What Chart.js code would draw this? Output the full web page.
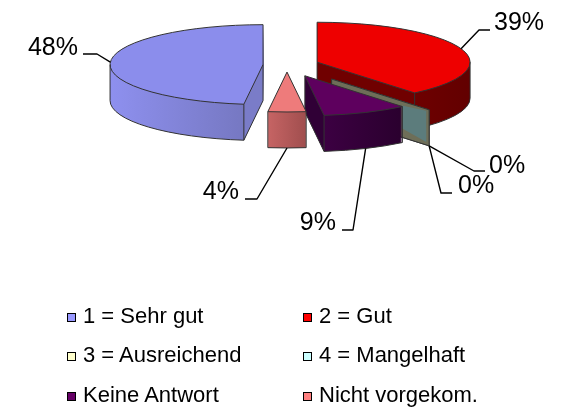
<!DOCTYPE html>
<html>
<head>
<meta charset="utf-8">
<script src="https://cdn.jsdelivr.net/npm/chart.js@4.4.1/dist/chart.umd.min.js"></script>
<style>
html,body{margin:0;padding:0;background:#fff;}
#wrap{position:relative;width:562px;height:409px;overflow:hidden;background:#fff;}
#c{position:absolute;left:0;top:0;}
.lg{position:absolute;font-family:"Liberation Sans",Arial,sans-serif;font-size:22px;line-height:22px;color:#000;white-space:nowrap;}
.lg .bx{position:absolute;left:0;top:8px;width:7px;height:7px;border:1px solid #000;}
.lg .tx{position:absolute;left:16px;top:0;}
</style>
</head>
<body>
<div id="wrap">
<canvas id="c" width="562" height="409"></canvas>
</div>
<script>
// ---- data ----
const categories = ['1 = Sehr gut', '2 = Gut', '3 = Ausreichend', '4 = Mangelhaft', 'Keine Antwort', 'Nicht vorgekom.'];
const values = [48, 39, 0, 0, 9, 4];
const legendColors = ['#9999FF', '#FF0000', '#FFFFCC', '#CCFFFF', '#660066', '#FF8080'];

// ---- style / layout ----
const topColors = ['#8B8DEC', '#EE0000', '#FFFFCC', '#CCFFFF', '#5E005E', '#EE7B7B'];
const sideColors = [['#8E90EF', '#7678C2'], ['#6E0000', '#620000'], ['#70705A', '#70705A'], ['#70705A', '#70705A'], ['#3C0042', '#2A002E'], ['#C66464', '#A04E4E']];
const faceColors = ['#7A7CC8', '#700000', null, null, '#300036', '#B05858'];
const labelLayout = [
  {anchor: 'top',    pts: [[97, 54], [83, 54]],   tx: 78,  ty: 55,  align: 'right'},
  {anchor: 'top',    pts: [[479, 30], [490, 30]], tx: 494, ty: 30,  align: 'left'},
  {anchor: 'bottom', pts: [[441, 193], [452, 193]], tx: 458, ty: 193, align: 'left'},
  {anchor: 'bottom', pts: [[474, 171], [485, 171]], tx: 489, ty: 173, align: 'left'},
  {anchor: 'bottom', pts: [[353, 230], [342, 230]], tx: 336, ty: 230, align: 'right'},
  {anchor: 'bottom', pts: [[257, 199], [245, 199]], tx: 239, ty: 199, align: 'right'}
];

function drawEl(el, ctx, fill) {
  const saved = el.options;
  el.options = {backgroundColor: fill, borderColor: fill, borderWidth: 0, borderAlign: 'center',
    borderJoinStyle: 'round', borderDash: [], borderDashOffset: 0, borderRadius: 0,
    offset: 0, spacing: 0, circular: true, selfJoin: false};
  el.draw(ctx);
  el.options = saved;
}

const pie3d = {
  id: 'pie3d',
  beforeDatasetsDraw(chart, args, opts) {
    const ctx = chart.ctx;
    const meta = chart.getDatasetMeta(0);
    const k = opts.tilt, D = opts.depth, PI = Math.PI;
    const items = meta.data.map((el, i) => {
      const a0 = el.startAngle, a1 = el.endAngle, am = (a0 + a1) / 2;
      const o = opts.explode[i];
      return {el, i, a0, a1, am, R: el.outerRadius,
        cx: opts.cx + o * Math.cos(am), cy: opts.cy + o * Math.sin(am) * k};
    });
    const P = (it, a, r, d) => [it.cx + r * Math.cos(a), it.cy + k * r * Math.sin(a) + d];
    const frontRanges = (a0, a1) => {
      const out = [];
      for (let n = -2; n <= 2; n++) {
        const s = Math.max(a0, 2 * PI * n), e = Math.min(a1, 2 * PI * n + PI);
        if (e > s + 1e-9) out.push([s, e]);
      }
      return out;
    };
    const withLayer = (it, d, fn) => {
      ctx.save();
      ctx.translate(it.cx, it.cy + d);
      ctx.scale(1, k);
      ctx.translate(-it.el.x, -it.el.y);
      fn();
      ctx.restore();
    };
    const line = (pts) => {
      ctx.beginPath();
      ctx.moveTo(pts[0][0], pts[0][1]);
      for (let j = 1; j < pts.length; j++) ctx.lineTo(pts[j][0], pts[j][1]);
    };
    const order = items.slice().sort((p, q) => Math.sin(p.am) - Math.sin(q.am));
    ctx.save();
    ctx.lineJoin = 'round';
    for (const it of order) {
      const {el, i, a0, a1, R} = it;
      ctx.strokeStyle = '#333333';
      ctx.lineWidth = 1;
      if (a1 - a0 < 1e-6) {
        // zero-value slice: a thin radial wall
        const c0 = P(it, a0, 0, 0), r0 = P(it, a0, R, 0), r1 = P(it, a0, R, D), c1 = P(it, a0, 0, D);
        ctx.fillStyle = '#6E6E58';
        line([c0, r0, r1, c1]); ctx.closePath(); ctx.fill();
        const q = (f, g) => P(it, a0, R * f, D * g);
        ctx.fillStyle = '#5C7C7C';
        line([q(0.72, 0.12), q(0.97, 0.05), q(0.97, 0.92), q(0.72, 0.75)]); ctx.closePath(); ctx.fill();
        line([c0, r0, r1, c1]); ctx.closePath(); ctx.stroke();
        continue;
      }
      // side gradient extents
      const fr = frontRanges(a0, a1);
      let minX = Infinity, maxX = -Infinity;
      fr.forEach(([s, e]) => {
        for (let t = 0; t <= 40; t++) {
          const x = it.cx + R * Math.cos(s + (e - s) * t / 40);
          minX = Math.min(minX, x); maxX = Math.max(maxX, x);
        }
      });
      if (!isFinite(minX)) { minX = it.cx - R; maxX = it.cx + R; }
      const shift = it.cx - el.x;
      const g = ctx.createLinearGradient(minX - shift, 0, maxX - shift + 0.01, 0);
      g.addColorStop(0, opts.side[i][0]);
      g.addColorStop(1, opts.side[i][1]);
      for (let d = D; d >= 1; d--) withLayer(it, d, () => drawEl(el, ctx, g));
      // visible radial faces
      const faces = [];
      if (Math.cos(a0) < -1e-6) faces.push(a0);
      if (Math.cos(a1) > 1e-6) faces.push(a1);
      faces.forEach(a => {
        ctx.fillStyle = opts.face[i] || opts.side[i][1];
        line([P(it, a, 0, 0), P(it, a, R, 0), P(it, a, R, D), P(it, a, 0, D)]);
        ctx.closePath(); ctx.fill();
      });
      // top face
      withLayer(it, 0, () => drawEl(el, ctx, opts.top[i]));
      // outlines
      ctx.beginPath();
      const c = P(it, 0, 0, 0);
      ctx.moveTo(c[0], c[1]);
      const s0 = P(it, a0, R, 0);
      ctx.lineTo(s0[0], s0[1]);
      ctx.ellipse(it.cx, it.cy, R, k * R, 0, a0, a1);
      ctx.closePath();
      ctx.stroke();
      fr.forEach(([s, e]) => {
        ctx.beginPath();
        ctx.ellipse(it.cx, it.cy + D, R, k * R, 0, s, e);
        ctx.stroke();
      });
      const verts = [];
      for (let m = Math.ceil(a0 / PI); m * PI <= a1; m++) verts.push(m * PI);
      if (Math.sin(a0) > 0) verts.push(a0);
      if (Math.sin(a1) > 0) verts.push(a1);
      verts.forEach(a => { line([P(it, a, R, 0), P(it, a, R, D)]); ctx.stroke(); });
      if (faces.length) {
        line([P(it, 0, 0, 0), P(it, 0, 0, D)]); ctx.stroke();
        faces.forEach(a => { line([P(it, a, 0, D), P(it, a, R, D)]); ctx.stroke(); });
      }
    }
    // data labels with leader lines
    ctx.strokeStyle = '#000';
    ctx.lineWidth = 1.4;
    ctx.fillStyle = '#000';
    ctx.font = '25px "Liberation Sans", Arial, sans-serif';
    ctx.textBaseline = 'alphabetic';
    items.forEach(it => {
      const L = opts.labels[it.i];
      const a = (it.a1 - it.a0 < 1e-6) ? it.a0 : it.am;
      const anc = P(it, a, it.R, L.anchor === 'top' ? 0 : D);
      line([anc].concat(L.pts));
      ctx.stroke();
      ctx.textAlign = L.align;
      ctx.fillText(chart.data.datasets[0].data[it.i] + '%', L.tx, L.ty);
    });
    ctx.restore();
    return false;
  }
};

const chart = new Chart(document.getElementById('c'), {
  type: 'pie',
  data: {
    labels: categories,
    datasets: [{
      data: values,
      backgroundColor: legendColors,
      borderWidth: 0,
      radius: 153,
      rotation: 187.2
    }]
  },
  options: {
    responsive: false,
    animation: false,
    devicePixelRatio: 1,
    events: [],
    layout: {padding: 0},
    plugins: {
      legend: {display: false},
      tooltip: {enabled: false},
      pie3d: {cx: 287, cy: 65, tilt: 0.261, depth: 36,
        explode: [24, 32, 70, 70, 45, 27],
        top: topColors, side: sideColors, face: faceColors, labels: labelLayout}
    }
  },
  plugins: [pie3d]
});

// HTML legend in two columns, built from the chart's own labels
const wrap = document.getElementById('wrap');
const colX = [67, 303];
const rowBase = [324, 363, 403];
chart.data.labels.forEach((lab, i) => {
  const d = document.createElement('div');
  d.className = 'lg';
  d.style.left = colX[i % 2] + 'px';
  d.style.top = (rowBase[Math.floor(i / 2)] - 18.6) + 'px';
  const b = document.createElement('span');
  b.className = 'bx';
  b.style.background = chart.data.datasets[0].backgroundColor[i];
  const t = document.createElement('span');
  t.className = 'tx';
  t.textContent = lab;
  d.appendChild(b); d.appendChild(t);
  wrap.appendChild(d);
});
</script>
</body>
</html>
